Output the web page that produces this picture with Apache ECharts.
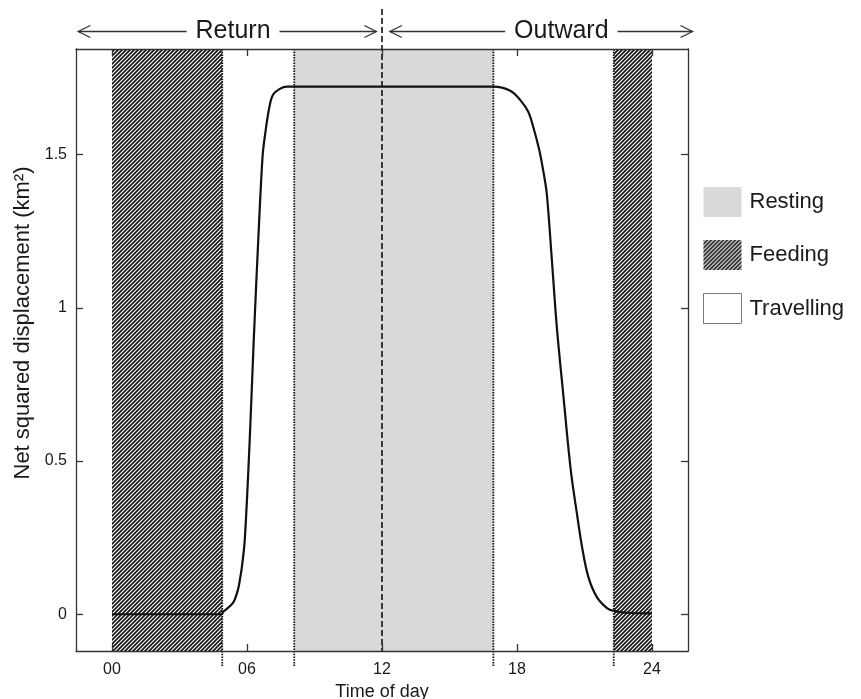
<!DOCTYPE html>
<html>
<head>
<meta charset="utf-8">
<script src="https://cdn.jsdelivr.net/npm/echarts@6/dist/echarts.min.js"></script>
<style>
  html, body { margin: 0; padding: 0; background: #fff; }
  #chart { width: 861px; height: 699px; }
</style>
</head>
<body>
<div id="chart"></div>
<script>
// ---------------- data ----------------
const hours = [0, 4.88, 4.93, 5.37, 5.59, 5.68, 5.77, 5.90, 6.12, 6.30, 6.50, 6.69, 6.79, 6.97, 7.15, 7.46, 7.78,
  16.95, 17.70, 18.14, 18.50, 18.72, 18.99, 19.16, 19.32, 19.55, 19.77, 20.05, 20.39, 20.66, 20.89,
  21.17, 21.55, 22.00, 22.29, 23.03, 24.0];
const nsd = [0, 0, 0.007, 0.036, 0.078, 0.111, 0.153, 0.242, 0.568, 0.895, 1.221, 1.493, 1.558, 1.646, 1.695, 1.715, 1.722,
  1.722, 1.709, 1.679, 1.640, 1.591, 1.515, 1.450, 1.375, 1.156, 0.937, 0.722, 0.470, 0.330, 0.220,
  0.122, 0.056, 0.020, 0.011, 0.004, 0.003];

const restingStart = [8.1];
const restingEnd = [16.95];
const feedingStart = [0, 22.3];
const feedingEnd = [4.9, 24];
const dividerHours = [4.9, 8.1, 16.95, 22.3];
const middayHour = [12];

const arrowLabels = ['Return', 'Outward'];
const arrowFrom = [-1.5, 12.35];
const arrowTo = [11.75, 25.8];
const arrowLabelAt = [5.38, 19.97];

const xTicks = [0, 6, 12, 18, 24];
const xTickLabels = ['00', '06', '12', '18', '24'];
const yTicks = [0, 0.5, 1, 1.5];
const yTickLabels = ['0', '0.5', '1', '1.5'];

const xMin = -1.6, xMax = 25.6, yMin = -0.12, yMax = 1.845;

// ---------------- styles ----------------
const FONT = '"Liberation Sans", Arial, sans-serif';
const INK = '#1a1a1a';
const GREY = '#d9d9d9';

function hatchCanvas() {
  const c = document.createElement('canvas');
  const n = 8, p = 4;
  c.width = n; c.height = n;
  const g = c.getContext('2d');
  g.fillStyle = '#fff';
  g.fillRect(0, 0, n, n);
  g.strokeStyle = '#111';
  g.lineWidth = 1.6;
  g.beginPath();
  for (let a = -n; a <= n; a += p) {
    g.moveTo(a - 1, n + 1);
    g.lineTo(a + n + 1, -1);
  }
  g.stroke();
  return c;
}
const hatch = { image: hatchCanvas(), repeat: 'repeat' };

const curveData = hours.map((h, i) => [h, nsd[i]]);
const restingData = restingStart.map((s, i) => [s, restingEnd[i]]);
const feedingData = feedingStart.map((s, i) => [s, feedingEnd[i]]);
const arrowData = arrowFrom.map((f, i) => [f, arrowTo[i], arrowLabelAt[i], i]);

function bandRenderer(fill) {
  return function (params, api) {
    const p0 = api.coord([api.value(0), yMax]);
    const p1 = api.coord([api.value(1), yMin]);
    return {
      type: 'rect',
      shape: { x: p0[0], y: p0[1], width: p1[0] - p0[0], height: p1[1] - p0[1] },
      style: { fill: fill }
    };
  };
}

const axisLineStyle = { color: '#333', width: 1.3 };

const chart = echarts.init(document.getElementById('chart'), null, { renderer: 'canvas' });

const option = {
  backgroundColor: '#fff',
  animation: false,
  textStyle: { fontFamily: FONT },
  grid: { left: 76, right: 173, top: 49, bottom: 48, containLabel: false, outerBoundsMode: 'none' },
  legend: {
    orient: 'vertical',
    left: 703,
    top: 187,
    padding: 0,
    itemWidth: 38,
    itemHeight: 30,
    itemGap: 23,
    icon: 'rect',
    selectedMode: false,
    textStyle: { fontSize: 22, color: INK, fontFamily: FONT, padding: [0, 0, 0, 3] },
    data: [
      { name: 'Resting', itemStyle: { color: GREY, borderWidth: 0 } },
      { name: 'Feeding', itemStyle: { color: hatch, borderWidth: 0 } },
      { name: 'Travelling', itemStyle: { color: '#fff', borderColor: '#777', borderWidth: 1 } }
    ]
  },
  xAxis: [
    {
      type: 'value', position: 'bottom', min: xMin, max: xMax, z: 10,
      axisLine: { show: true, onZero: false, lineStyle: axisLineStyle },
      axisTick: { show: true, inside: true, length: 7, customValues: xTicks, lineStyle: axisLineStyle },
      axisLabel: {
        customValues: xTicks, fontSize: 16, color: INK, margin: 11, fontFamily: FONT,
        formatter: v => xTickLabels[xTicks.indexOf(v)]
      },
      splitLine: { show: false },
      name: 'Time of day', nameLocation: 'middle', nameGap: 30,
      nameTextStyle: { fontSize: 18, color: INK, fontFamily: FONT }
    },
    {
      type: 'value', position: 'top', min: xMin, max: xMax, z: 10,
      axisLine: { show: true, onZero: false, lineStyle: axisLineStyle },
      axisTick: { show: true, inside: true, length: 7, customValues: xTicks, lineStyle: axisLineStyle },
      axisLabel: { show: false },
      splitLine: { show: false }
    }
  ],
  yAxis: [
    {
      type: 'value', position: 'left', min: yMin, max: yMax, z: 10,
      axisLine: { show: true, onZero: false, lineStyle: axisLineStyle },
      axisTick: { show: true, inside: true, length: 7, customValues: yTicks, lineStyle: axisLineStyle },
      axisLabel: {
        customValues: yTicks, fontSize: 16, color: INK, margin: 9, fontFamily: FONT,
        formatter: v => yTickLabels[yTicks.indexOf(v)]
      },
      splitLine: { show: false },
      name: 'Net squared displacement (km²)', nameLocation: 'middle', nameGap: 39,
      nameTextStyle: { fontSize: 22, color: INK, fontFamily: FONT, padding: [0, 0, 0, 54] }
    },
    {
      type: 'value', position: 'right', min: yMin, max: yMax, z: 10,
      axisLine: { show: true, onZero: false, lineStyle: axisLineStyle },
      axisTick: { show: true, inside: true, length: 7, customValues: yTicks, lineStyle: axisLineStyle },
      axisLabel: { show: false },
      splitLine: { show: false }
    }
  ],
  series: [
    {
      name: 'Resting', type: 'custom', xAxisIndex: 0, yAxisIndex: 0, z: 1, silent: true,
      itemStyle: { color: GREY },
      encode: { x: [0, 1] },
      data: restingData,
      renderItem: bandRenderer(GREY)
    },
    {
      name: 'Feeding', type: 'custom', xAxisIndex: 0, yAxisIndex: 0, z: 1, silent: true,
      itemStyle: { color: hatch },
      encode: { x: [0, 1] },
      data: feedingData,
      renderItem: bandRenderer(hatch)
    },
    {
      name: 'Travelling', type: 'custom', xAxisIndex: 0, yAxisIndex: 0, z: 1, silent: true,
      itemStyle: { color: '#fff', borderColor: '#777', borderWidth: 1 },
      data: [],
      renderItem: () => null
    },
    {
      name: 'dividers', type: 'custom', xAxisIndex: 0, yAxisIndex: 0, z: 3, silent: true, clip: false,
      data: dividerHours.map(h => [h]),
      encode: { x: 0 },
      renderItem: function (params, api) {
        const a = api.coord([api.value(0), yMax]);
        const b = api.coord([api.value(0), yMin]);
        return {
          type: 'line',
          shape: { x1: a[0], y1: a[1], x2: b[0], y2: b[1] + 16 },
          style: { stroke: '#111', lineWidth: 1.8, lineDash: [1.5, 1.2] }
        };
      }
    },
    {
      name: 'midday', type: 'custom', xAxisIndex: 0, yAxisIndex: 0, z: 4, silent: true, clip: false,
      data: middayHour.map(h => [h]),
      encode: { x: 0 },
      renderItem: function (params, api) {
        const a = api.coord([api.value(0), yMax]);
        const b = api.coord([api.value(0), yMin]);
        return {
          type: 'line',
          shape: { x1: a[0], y1: a[1] - 40, x2: b[0], y2: b[1] },
          style: { stroke: '#111', lineWidth: 1.6, lineDash: [6, 3] }
        };
      }
    },
    {
      name: 'arrows', type: 'custom', xAxisIndex: 0, yAxisIndex: 0, z: 4, silent: true, clip: false,
      data: arrowData,
      encode: { x: [0, 1] },
      renderItem: function (params, api) {
        const a = api.coord([api.value(0), yMax]);
        const b = api.coord([api.value(1), yMax]);
        const t = api.coord([api.value(2), yMax]);
        const y = a[1] - 17.5;
        const hl = 12, hh = 6;
        const stroke = { stroke: '#333', lineWidth: 1.3, fill: null };
        return {
          type: 'group',
          children: [
            { type: 'line', shape: { x1: a[0], y1: y, x2: b[0], y2: y }, style: stroke },
            { type: 'polyline', shape: { points: [[a[0] + hl, y - hh], [a[0], y], [a[0] + hl, y + hh]] }, style: stroke },
            { type: 'polyline', shape: { points: [[b[0] - hl, y - hh], [b[0], y], [b[0] - hl, y + hh]] }, style: stroke },
            {
              type: 'text',
              style: {
                text: arrowLabels[api.value(3)], x: t[0], y: y,
                align: 'center', verticalAlign: 'middle',
                fontSize: 25, fontFamily: FONT, fill: INK,
                backgroundColor: '#fff', padding: [0, 9]
              }
            }
          ]
        };
      }
    },
    {
      name: 'NSD', type: 'line', xAxisIndex: 0, yAxisIndex: 0, z: 5, silent: true,
      data: curveData,
      showSymbol: false,
      smooth: 0.35,
      lineStyle: { color: '#111', width: 2.2 }
    }
  ]
};

chart.setOption(option);
</script>
</body>
</html>
